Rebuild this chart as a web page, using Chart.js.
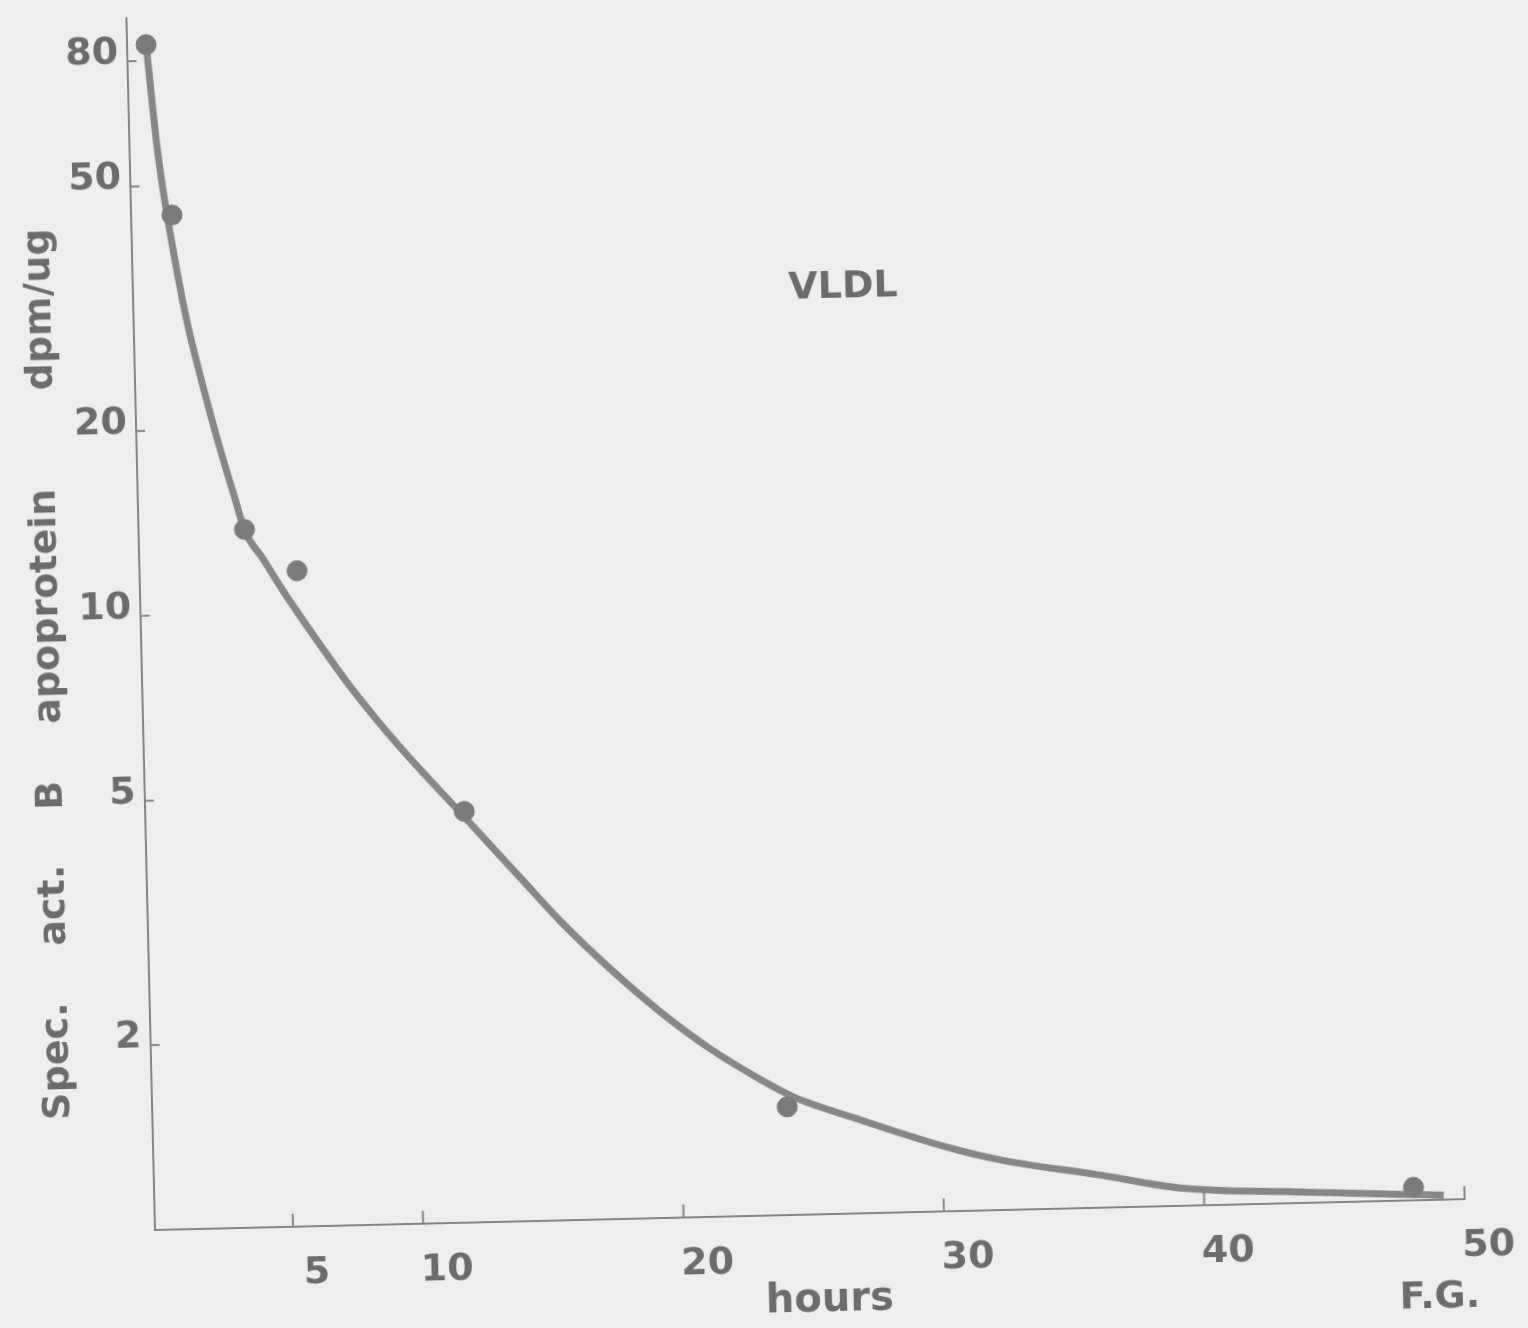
<!DOCTYPE html>
<html>
<head>
<meta charset="utf-8">
<script src="https://cdn.jsdelivr.net/npm/chart.js@4"></script>
<style>
  html, body { margin: 0; padding: 0; background: #eeeeee; overflow: hidden; width: 1528px; height: 1328px; }
  /* the scanned figure sits slightly tilted on the page */
  #vldlChart { position: absolute; left: 0; top: 0; transform-origin: 155px 1230px; transform: rotate(-1.35deg); }
</style>
</head>
<body>
<canvas id="vldlChart" width="1528" height="1420"></canvas>
<script>
// values
const hourTicks = [5, 10, 20, 30, 40, 50];
const activityTicks = [2, 5, 10, 20, 50, 80];

const sampleHours = [0.43, 1.27, 3.77, 5.75, 11.95, 24.08, 48.05];
const sampleActivity = [85, 44.8, 13.7, 11.68, 4.67, 1.50, 1.05];

const curveHours = [0.43, 0.79, 1.41, 1.75, 2.48, 2.90, 3.43, 3.79, 4.45, 5.08, 5.82, 6.57, 7.68, 9.55, 11.94,
    14.04, 15.53, 17.41, 19.29, 21.17, 23.07, 24.32, 26.87, 30.15, 32.22, 36.04, 39.1, 43.7, 49.2];
const curveActivity = [85, 56.2, 36.3, 30.0, 21.9, 18.6, 15.4, 13.6, 12.26, 11.05, 9.86, 8.83, 7.54, 5.97, 4.58,
    3.626, 3.073, 2.556, 2.167, 1.879, 1.667, 1.557, 1.42, 1.273, 1.207, 1.13, 1.069, 1.042, 1.017];

const ink = '#6c6c6c';
const lineGrey = '#858585';
const fontFamily = '"DejaVu Sans", sans-serif';

// background, inward tick marks and the loose text of the figure
const figureDecor = {
    id: 'figureDecor',
    beforeDraw(chart) {
        const ctx = chart.ctx;
        ctx.save();
        ctx.fillStyle = '#eeeeee';
        ctx.fillRect(0, 0, chart.width, chart.height);
        ctx.restore();
    },
    afterDraw(chart) {
        const ctx = chart.ctx;
        const x = chart.scales.x, y = chart.scales.y;
        const area = chart.chartArea;
        ctx.save();
        ctx.strokeStyle = lineGrey;
        ctx.lineWidth = 2;
        hourTicks.forEach(h => {
            const px = x.getPixelForValue(h);
            ctx.beginPath();
            ctx.moveTo(px, area.bottom);
            ctx.lineTo(px, area.bottom - 13);
            ctx.stroke();
        });
        activityTicks.forEach(v => {
            const py = y.getPixelForValue(v);
            ctx.beginPath();
            ctx.moveTo(area.left, py);
            ctx.lineTo(area.left + 9, py);
            ctx.stroke();
        });

        ctx.fillStyle = ink;
        ctx.textAlign = 'center';
        ctx.textBaseline = 'middle';
        ctx.font = 'bold 38px ' + fontFamily;
        ctx.fillText('VLDL', 865, 304);
        ctx.font = 'bold 40px ' + fontFamily;
        ctx.fillText('hours', 828, 1317);
        ctx.font = 'bold 38px ' + fontFamily;
        ctx.fillText('F.G.', 1438, 1328);

        // rotated y-axis title, words spread along the axis
        const words = [['Spec.', 1059], ['act.', 903], ['B', 793], ['apoprotein', 604], ['dpm/ug', 307]];
        words.forEach(([w, cy]) => {
            ctx.save();
            ctx.translate(62, cy);
            ctx.rotate(-Math.PI / 2);
            ctx.fillText(w, 0, 0);
            ctx.restore();
        });
        ctx.restore();
    }
};

function noPad(scale) {
    scale.paddingLeft = 0;
    scale.paddingRight = 0;
    scale.paddingTop = 0;
    scale.paddingBottom = 0;
}

const ctx = document.getElementById('vldlChart').getContext('2d');
new Chart(ctx, {
    type: 'scatter',
    data: {
        datasets: [
            {
                label: 'fit',
                data: curveHours.map((h, i) => ({ x: h, y: curveActivity[i] })),
                showLine: true,
                borderColor: '#878787',
                borderWidth: 7,
                pointRadius: 0,
                cubicInterpolationMode: 'monotone',
                order: 2
            },
            {
                label: 'VLDL',
                data: sampleHours.map((h, i) => ({ x: h, y: sampleActivity[i] })),
                backgroundColor: '#7b7b7b',
                borderColor: '#7b7b7b',
                pointRadius: 10,
                order: 1
            }
        ]
    },
    options: {
        responsive: false,
        animation: false,
        layout: { padding: { left: 0, top: 18, right: 63, bottom: 0 } },
        plugins: {
            legend: { display: false },
            tooltip: { enabled: false }
        },
        scales: {
            x: {
                type: 'linear',
                min: -0.3,
                max: 50,
                afterFit: scale => { scale.height = 190; noPad(scale); },
                afterBuildTicks: scale => { scale.ticks = hourTicks.map(v => ({ value: v })); },
                grid: { display: true, drawOnChartArea: false, drawTicks: false },
                border: { display: true, color: lineGrey, width: 2 },
                ticks: {
                    autoSkip: false,
                    maxRotation: 0,
                    padding: 24,
                    labelOffset: 23,
                    color: ink,
                    font: { family: fontFamily, size: 38, weight: 'bold' },
                    callback: v => String(v)
                }
            },
            y: {
                type: 'logarithmic',
                min: 1,
                max: 94,
                afterFit: scale => { scale.width = 155; noPad(scale); },
                afterBuildTicks: scale => { scale.ticks = activityTicks.map(v => ({ value: v })); },
                grid: { display: true, drawOnChartArea: false, drawTicks: false },
                border: { display: true, color: lineGrey, width: 2 },
                ticks: {
                    autoSkip: false,
                    padding: 9,
                    labelOffset: -8,
                    color: ink,
                    font: { family: fontFamily, size: 38, weight: 'bold' },
                    callback: v => String(v)
                }
            }
        }
    },
    plugins: [figureDecor]
});
</script>
</body>
</html>
